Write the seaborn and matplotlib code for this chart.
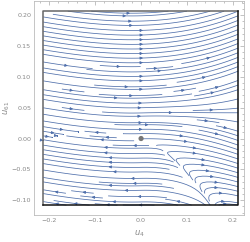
import numpy as np
import matplotlib
matplotlib.use("Agg")
import matplotlib.pyplot as plt
import seaborn as sns
from matplotlib.ticker import MultipleLocator

sns.set_style("white")
plt.rcParams['font.family'] = ['DejaVu Sans']

# u4' = y + a1*x + a2*x^2 + a3*max(x,0)^2
fx_coef = [0.25, 1.25, 1.5]
# slope field pieces: m(x) = m0 + m1 x + m2 x^2 ; n(x) = n1 * max(x,0)
slope_coef = [0.02, 1.0, 1.5]
bend_coef = [3.0, 0.04, 0.03]       # n1, y-centre, y-width
lift_coef = [0.3, 0.0, 0.03]        # g0, y-centre, y-width
x_range = [-0.213, 0.211]
y_range = [-0.108, 0.2065]
fixed_point = [0.0, 0.0]
x_ticks = [-0.2, -0.1, 0.0, 0.1, 0.2]
x_tick_labels = ["\u22120.2", "\u22120.1", "0.0", "0.1", "0.2"]
y_ticks = [-0.10, -0.05, 0.00, 0.05, 0.10, 0.15, 0.20]
y_tick_labels = ["\u22120.10", "\u22120.05", "0.00", "0.05", "0.10", "0.15", "0.20"]

fig = plt.figure(figsize=(2.5, 2.42), dpi=100)
ax = fig.add_axes([34/250, 1 - 215/242, 210/250, 214/242])

xs = np.linspace(x_range[0], x_range[1], 160)
ys = np.linspace(y_range[0], y_range[1], 160)
X, Y = np.meshgrid(xs, ys)
xp = np.clip(X, 0, None)
U = Y + fx_coef[0]*X + fx_coef[1]*X**2 + fx_coef[2]*xp**2
S = (slope_coef[0] + slope_coef[1]*X + slope_coef[2]*X**2
     - bend_coef[0]*xp*(1 - np.tanh((Y - bend_coef[1])/bend_coef[2]))/2)
G = lift_coef[0]*xp**2*(1 - np.tanh((Y - lift_coef[1])/lift_coef[2]))/2
V = U*S + G
ax.streamplot(X, Y, U, V, density=1.45, color="#4f6fab", linewidth=0.55,
              arrowsize=0.4, arrowstyle='-|>')

sns.scatterplot(x=[fixed_point[0]], y=[fixed_point[1]], ax=ax, color="#777777",
                s=14, edgecolor="none", zorder=5)

# inner frame
ax.plot([x_range[0], x_range[0], x_range[1]], [y_range[0], y_range[1], y_range[1]],
        color="#666666", lw=1.1, solid_capstyle='projecting', zorder=6)
ax.plot([x_range[0], x_range[1], x_range[1]], [y_range[0], y_range[0], y_range[1]],
        color="#111111", lw=1.1, solid_capstyle='projecting', zorder=6)

ax.set_xlim(-0.233, 0.224)
ax.set_ylim(-0.124, 0.223)
ax.set_xticks(x_ticks)
ax.set_xticklabels(x_tick_labels)
ax.set_yticks(y_ticks)
ax.set_yticklabels(y_tick_labels)
ax.xaxis.set_minor_locator(MultipleLocator(0.02))
ax.yaxis.set_minor_locator(MultipleLocator(0.01))
ax.tick_params(which='both', direction='in', top=True, right=True, color="#aaaaaa",
               labelsize=4.6, labelcolor="#888888", width=0.5, pad=2)
ax.tick_params(which='major', length=3)
ax.tick_params(which='minor', length=1.5)
for s in ax.spines.values():
    s.set_color("#bbbbbb")
    s.set_linewidth(0.6)
ax.set_xlabel(r"$u_4$", fontsize=6, color="#888888", labelpad=4)
ax.set_ylabel(r"$u_{61}$", fontsize=6, color="#888888", labelpad=1)
ax.yaxis.set_label_coords(-0.105, 0.5)

fig.savefig("out.png", dpi=100)
